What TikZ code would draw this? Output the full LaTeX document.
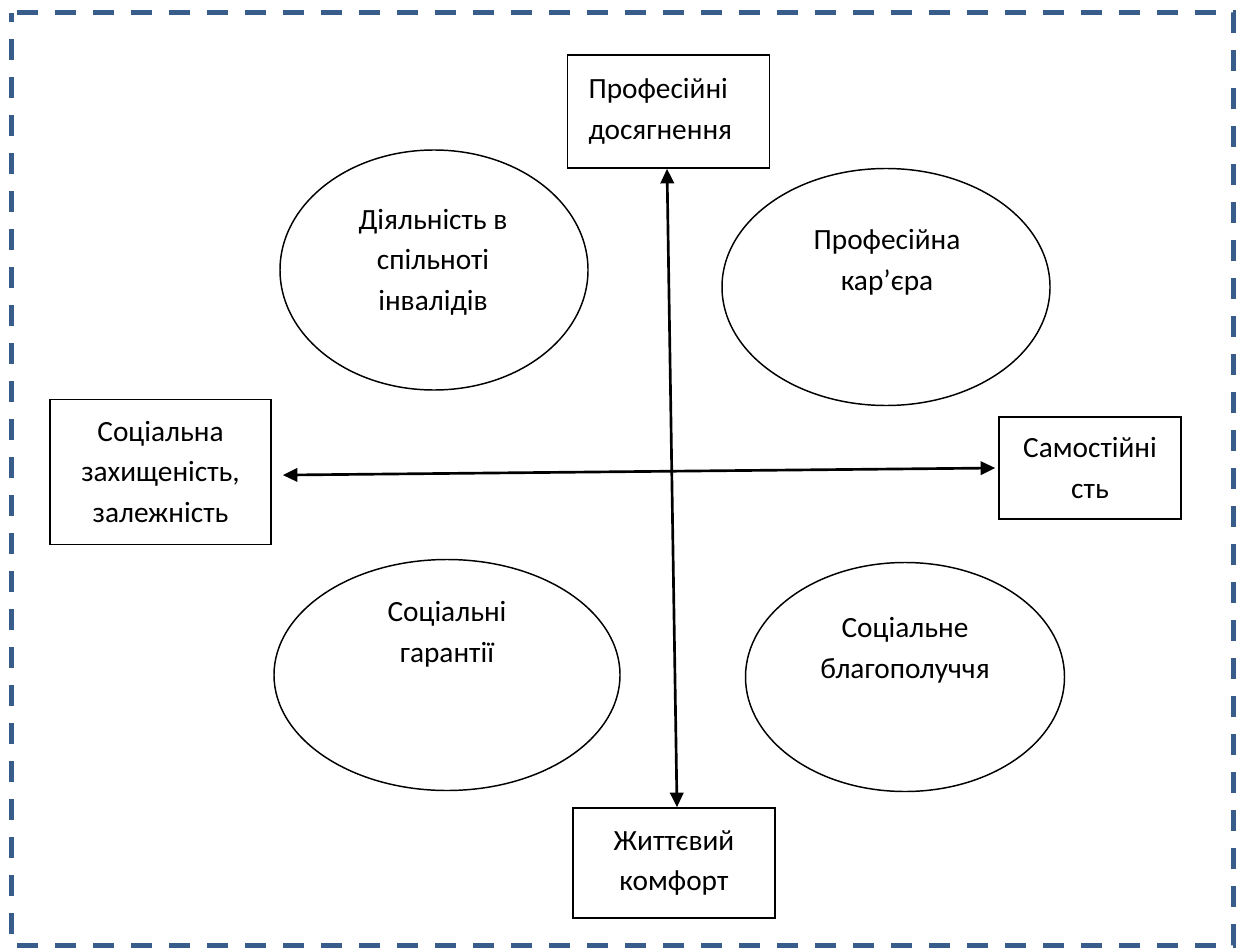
\documentclass[tikz,border=0pt]{standalone}
\usepackage{fontspec}
\setmainfont{Carlito}
\usetikzlibrary{arrows.meta,shapes.geometric}
\definecolor{frameblue}{RGB}{56,93,138}
\tikzset{
  pxbox/.style={draw=black, line width=1.1pt, fill=white, inner sep=0pt, align=center,
     font=\fontsize{22pt}{30.5pt}\selectfont},
  ell/.style={ellipse, draw=black, line width=1.1pt, fill=white, inner sep=0pt},
  lbl/.style={align=center, inner sep=0pt, font=\fontsize{22pt}{30.5pt}\selectfont},
  arr/.style={line width=2pt, {Triangle[length=11pt,width=10pt]}-{Triangle[length=11pt,width=10pt]}},
  frame/.style={draw=frameblue, line width=3.75pt, dash pattern=on 15.75pt off 12.75pt, dash phase=24.4pt}
}
\begin{document}
\begin{tikzpicture}[x=0.75pt,y=-0.75pt]
\useasboundingbox (0,0) rectangle (1237,948);
\draw[frame] (11.5,13) -- (1233.5,13) -- (1233.5,945) -- (11.5,945) -- cycle;

\node[pxbox, minimum width=202*0.75pt, minimum height=113*0.75pt, text width=160*0.75pt, inner xsep=21*0.75pt, align=left] (b1) at (668.5,111.5) {Професійні\\досягнення};
\node[pxbox, minimum width=221*0.75pt, minimum height=145*0.75pt] (bl) at (160.5,472) {Соціальна\\захищеність,\\залежність};
\node[pxbox, minimum width=182*0.75pt, minimum height=102*0.75pt] (br) at (1090,468) {Самостійні\\сть};
\node[pxbox, minimum width=202*0.75pt, minimum height=110*0.75pt] (b5) at (674,863) {Життєвий\\комфорт};

\node[ell, minimum width=308*0.75pt, minimum height=240*0.75pt] (e1) at (434,270) {};
\node[lbl] (t1) at (433,262) {Діяльність в\\спільноті\\інвалідів};
\node[ell, minimum width=328*0.75pt, minimum height=237*0.75pt] (e2) at (886,287) {};
\node[lbl] (t2) at (887,262) {Професійна\\кар’єра};
\node[ell, minimum width=346*0.75pt, minimum height=231*0.75pt] (e3) at (447,675) {};
\node[lbl] (t3) at (447,634) {Соціальні\\гарантії};
\node[ell, minimum width=319*0.75pt, minimum height=229*0.75pt] (e4) at (905,677) {};
\node[lbl] (t4) at (905,650) {Соціальне\\благополуччя};

\draw[arr] ([xshift=-1.1pt]b1.south) -- ([xshift=2.25pt]b5.north);
\draw[arr] ([xshift=8.25pt,yshift=-2.3pt]bl.east) -- ([xshift=-2.25pt]br.west);
\end{tikzpicture}
\end{document}
